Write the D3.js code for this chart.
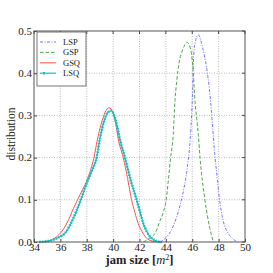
<!DOCTYPE html>
<html>
<head>
<meta charset="utf-8">
<script src="https://cdn.jsdelivr.net/npm/d3@7"></script>
<style>
  body { margin: 0; background: #fff; }
  text { font-family: "Liberation Serif", "DejaVu Serif", serif; fill: #222; }
</style>
</head>
<body>
<div id="chart"></div>
<script>
// curves: jam size [m^2] vs distribution
var lspX = [43.4, 43.8, 44.06, 44.56, 45.1, 45.5, 45.7, 45.85, 45.95, 46.03, 46.08, 46.2, 46.46, 46.79, 47.09, 47.29, 47.4, 47.55, 47.7, 47.9, 48.05, 48.35, 48.7, 49.0, 49.4];
var lspY = [0, 0.005, 0.012, 0.038, 0.09, 0.15, 0.195, 0.245, 0.3, 0.36, 0.42, 0.47, 0.491, 0.46, 0.412, 0.365, 0.33, 0.27, 0.21, 0.15, 0.105, 0.05, 0.022, 0.01, 0];

var gspX = [42.3, 42.8, 43.17, 43.55, 43.8, 44.02, 44.2, 44.36, 44.56, 44.69, 44.82, 45.0, 45.27, 45.62, 45.85, 46.0, 46.1, 46.2, 46.35, 46.46, 46.59, 46.96, 47.34, 47.6];
var gspY = [0, 0.01, 0.02, 0.05, 0.07, 0.1, 0.15, 0.2, 0.255, 0.335, 0.38, 0.425, 0.455, 0.473, 0.46, 0.43, 0.39, 0.336, 0.29, 0.254, 0.2, 0.1, 0.032, 0];

var gsqX = [34.8, 35.2, 35.6, 36.0, 36.5, 37.0, 37.3, 37.7, 38.0, 38.3, 38.55, 38.8, 39.1, 39.4, 39.7, 40.0, 40.2, 40.4, 40.77, 41.1, 41.4, 41.65, 41.9, 42.2, 42.45, 42.8, 43.2];
var gsqY = [0, 0.003, 0.01, 0.021, 0.045, 0.08, 0.1, 0.125, 0.145, 0.172, 0.2, 0.242, 0.28, 0.308, 0.318, 0.305, 0.28, 0.242, 0.2, 0.15, 0.1, 0.07, 0.044, 0.024, 0.012, 0.004, 0];

var lsqX = [34.4, 35.0, 35.5, 36.0, 36.35, 36.8, 37.2, 37.55, 38.0, 38.4, 38.75, 38.98, 39.3, 39.6, 39.85, 40.1, 40.3, 40.52, 40.9, 41.3, 41.78, 42.05, 42.29, 42.55, 42.8, 43.1, 43.4, 43.7];
var lsqY = [0, 0.002, 0.006, 0.013, 0.021, 0.044, 0.072, 0.1, 0.14, 0.17, 0.2, 0.242, 0.285, 0.307, 0.311, 0.298, 0.275, 0.242, 0.2, 0.15, 0.1, 0.07, 0.044, 0.025, 0.013, 0.005, 0.001, 0];

var xTicks = [34, 36, 38, 40, 42, 44, 46, 48, 50];
var yTicks = [0.0, 0.1, 0.2, 0.3, 0.4, 0.5];
var seriesNames = ['LSP', 'GSP', 'GSQ', 'LSQ'];

var width = 273, height = 273;
var margin = {top: 31, right: 28, bottom: 31, left: 34};
var w = width - margin.left - margin.right;
var h = height - margin.top - margin.bottom;

var svg = d3.select('#chart').append('svg')
  .attr('width', width)
  .attr('height', height);

var g = svg.append('g')
  .attr('transform', 'translate(' + margin.left + ',' + margin.top + ')');

var x = d3.scaleLinear().domain([34, 50]).range([0, w]);
var y = d3.scaleLinear().domain([0, 0.5]).range([h, 0]);

// grid
g.append('g').selectAll('line')
  .data(xTicks.slice(1, -1))
  .enter().append('line')
  .attr('x1', function (d) { return x(d); })
  .attr('x2', function (d) { return x(d); })
  .attr('y1', 0).attr('y2', h)
  .attr('stroke', '#aaa').attr('stroke-width', 0.8)
  .attr('stroke-dasharray', '1,1.5');

g.append('g').selectAll('line')
  .data(yTicks.slice(1, -1))
  .enter().append('line')
  .attr('y1', function (d) { return y(d); })
  .attr('y2', function (d) { return y(d); })
  .attr('x1', 0).attr('x2', w)
  .attr('stroke', '#aaa').attr('stroke-width', 0.8)
  .attr('stroke-dasharray', '1,1.5');

// axes
var xAxis = d3.axisBottom(x).tickValues(xTicks).tickSize(-3).tickPadding(2)
  .tickFormat(d3.format('d'));
var yAxis = d3.axisLeft(y).tickValues(yTicks).tickSize(-3).tickPadding(2)
  .tickFormat(d3.format('.1f'));

var gx = g.append('g').attr('transform', 'translate(0,' + h + ')').call(xAxis);
var gy = g.append('g').call(yAxis);
[gx, gy].forEach(function (a) {
  a.select('.domain').remove();
  a.selectAll('line').attr('stroke', '#444');
  a.selectAll('text')
    .style('font-family', '"Liberation Serif", serif')
    .style('font-size', '11px')
    .attr('fill', '#333');
});
gx.selectAll('text').attr('dy', '0.66em');
gy.selectAll('text').attr('dy', '0.28em');

g.append('g').selectAll('line')
  .data(xTicks)
  .enter().append('line')
  .attr('x1', function (d) { return x(d); })
  .attr('x2', function (d) { return x(d); })
  .attr('y1', 0).attr('y2', 3)
  .attr('stroke', '#444');
g.append('g').selectAll('line')
  .data(yTicks)
  .enter().append('line')
  .attr('y1', function (d) { return y(d); })
  .attr('y2', function (d) { return y(d); })
  .attr('x1', w).attr('x2', w - 3)
  .attr('stroke', '#444');

// curves
function toPts(xs, ys) {
  return xs.map(function (v, i) { return [v, ys[i]]; });
}
var line = d3.line()
  .x(function (d) { return x(d[0]); })
  .y(function (d) { return y(d[1]); })
  .curve(d3.curveMonotoneX);

var series = [
  {name: 'LSP', pts: toPts(lspX, lspY), color: '#7373ff', dash: '3,1.5,1,1.5', width: 1},
  {name: 'GSP', pts: toPts(gspX, gspY), color: '#4fa64f', dash: '3.5,2', width: 1},
  {name: 'GSQ', pts: toPts(gsqX, gsqY), color: '#ff5050', dash: null, width: 1},
  {name: 'LSQ', pts: toPts(lsqX, lsqY), color: '#18bdbd', dash: null, width: 1.2}
];

series.forEach(function (s) {
  g.append('path')
    .datum(s.pts)
    .attr('d', line)
    .attr('fill', 'none')
    .attr('stroke', s.color)
    .attr('stroke-width', s.width)
    .attr('stroke-dasharray', s.dash);
  if (s.name === 'LSQ') {
    // small dot markers along the line
    g.append('path')
      .datum(s.pts)
      .attr('d', line)
      .attr('fill', 'none')
      .attr('stroke', s.color)
      .attr('stroke-width', 2.6)
      .attr('stroke-dasharray', '1.4,1.4');
  }
});

// frame
g.append('rect')
  .attr('width', w).attr('height', h)
  .attr('fill', 'none')
  .attr('stroke', '#555').attr('stroke-width', 1);

// legend
var lg = g.append('g').attr('transform', 'translate(3,1)');
lg.append('rect')
  .attr('width', 49).attr('height', 54)
  .attr('fill', '#fff')
  .attr('stroke', '#555').attr('stroke-width', 0.8);

var items = lg.selectAll('.item')
  .data(series)
  .enter().append('g')
  .attr('class', 'item')
  .attr('transform', function (d, i) { return 'translate(0,' + (10 + i * 10.4) + ')'; });

items.append('line')
  .attr('x1', 3).attr('x2', 19)
  .attr('y1', 0).attr('y2', 0)
  .attr('stroke', function (d) { return d.color; })
  .attr('stroke-width', function (d) { return d.width; })
  .attr('stroke-dasharray', function (d) { return d.dash; });
items.filter(function (d) { return d.name === 'LSQ'; })
  .append('line')
  .attr('x1', 3).attr('x2', 19)
  .attr('y1', 0).attr('y2', 0)
  .attr('stroke', function (d) { return d.color; })
  .attr('stroke-width', 2.4)
  .attr('stroke-dasharray', '0,3,2,11,2');

items.append('text')
  .attr('x', 26).attr('y', 0).attr('dy', '0.35em')
  .style('font-size', '8.5px')
  .text(function (d) { return d.name; });

// axis titles
svg.append('text')
  .attr('x', margin.left + w / 2)
  .attr('y', 264)
  .attr('text-anchor', 'middle')
  .style('font-size', '12.5px')
  .style('font-weight', 'bold')
  .html('jam size [<tspan font-style="italic" font-weight="normal">m</tspan><tspan dy="-4" font-size="8px" font-weight="normal">2</tspan><tspan dy="4">]</tspan>');

svg.append('text')
  .attr('transform', 'translate(15,134) rotate(-90)')
  .attr('text-anchor', 'middle')
  .style('font-size', '11.5px')
  .text('distribution');
</script>
</body>
</html>
